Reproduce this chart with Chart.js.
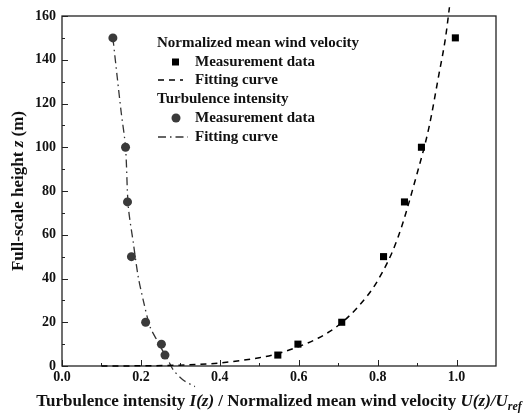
<!DOCTYPE html>
<html>
<head>
<meta charset="utf-8">
<script src="https://cdn.jsdelivr.net/npm/chart.js@4.4.1/dist/chart.umd.min.js"></script>
<style>
html,body{margin:0;padding:0;background:#fff;}
#wrap{width:525px;height:414px;}
</style>
</head>
<body>
<div id="wrap"><canvas id="c" width="525" height="414"></canvas></div>
<script>
// ---- data ----
const windU = [0.547, 0.598, 0.709, 0.815, 0.868, 0.911, 0.997];
const windZ = [5, 10, 20, 50, 75, 100, 150];
const windFitU = [0.10, 0.20, 0.30, 0.40, 0.50, 0.55, 0.60, 0.65, 0.70, 0.75, 0.80, 0.85, 0.90, 0.93, 0.955, 0.972, 0.982];
const windFitZ = [0, 0.1, 0.4, 1.4, 3.8, 5.8, 8.9, 12.8, 18.5, 27, 39, 58, 88, 109, 133, 150, 164];
const tiI = [0.129, 0.161, 0.166, 0.176, 0.212, 0.252, 0.261];
const tiZ = [150, 100, 75, 50, 20, 10, 5];
const tiFitI = [0.129, 0.140, 0.150, 0.161, 0.168, 0.181, 0.193, 0.206, 0.223, 0.240, 0.255, 0.268, 0.282, 0.307, 0.337];
const tiFitZ = [150, 132, 116, 100, 73, 56, 41, 30, 18, 12, 7, 3, -1.8, -6.4, -9.4];
const xTicks = [0.0, 0.2, 0.4, 0.6, 0.8, 1.0];
const xMinorTicks = [0.1, 0.3, 0.5, 0.7, 0.9, 1.1];
const yTicks = [0, 20, 40, 60, 80, 100, 120, 140, 160];
const yMinorTicks = [10, 30, 50, 70, 90, 110, 130, 150];

const pts = (xs, ys) => xs.map((x, i) => ({x: x, y: ys[i]}));
const SERIF = '"Liberation Serif", "Times New Roman", serif';
const AXC = '#222';

const framePlugin = {
  id: 'frame',
  beforeDatasetsDraw(chart) {
    const {ctx, chartArea: a, scales: {x, y}} = chart;
    ctx.save();
    ctx.strokeStyle = AXC;
    ctx.lineWidth = 1.3;
    ctx.strokeRect(a.left, a.top, a.right - a.left, a.bottom - a.top);
    ctx.lineWidth = 1;
    ctx.beginPath();
    xTicks.forEach(v => { const p = Math.round(x.getPixelForValue(v)) + 0.5; ctx.moveTo(p, a.bottom); ctx.lineTo(p, a.bottom - 6); });
    xMinorTicks.forEach(v => { const p = Math.round(x.getPixelForValue(v)) + 0.5; if (p < a.right - 1) { ctx.moveTo(p, a.bottom); ctx.lineTo(p, a.bottom - 3); } });
    yTicks.forEach(v => { const p = Math.round(y.getPixelForValue(v)) + 0.5; ctx.moveTo(a.left, p); ctx.lineTo(a.left + 6, p); });
    yMinorTicks.forEach(v => { const p = Math.round(y.getPixelForValue(v)) + 0.5; ctx.moveTo(a.left, p); ctx.lineTo(a.left + 3, p); });
    ctx.stroke();
    ctx.restore();
  },
  afterDraw(chart) {
    const {ctx} = chart;
    ctx.save();
    ctx.fillStyle = '#111';
    ctx.textBaseline = 'alphabetic';
    // x title with mixed styles
    const B = 'bold 17px ' + SERIF, BI = 'italic bold 17px ' + SERIF, SUB = 'italic bold 12px ' + SERIF;
    const parts = [
      ['Turbulence intensity ', B, 0],
      ['I(z)', BI, 0],
      [' / Normalized mean wind velocity ', B, 0],
      ['U(z)/U', BI, 0],
      ['ref', SUB, 4]
    ];
    let total = 0;
    parts.forEach(p => { ctx.font = p[1]; total += ctx.measureText(p[0]).width; });
    let xx = 279 - total / 2;
    const base = 406;
    parts.forEach(p => { ctx.font = p[1]; ctx.fillText(p[0], xx, base + p[2]); xx += ctx.measureText(p[0]).width; });
    // y title
    ctx.translate(23, 191);
    ctx.rotate(-Math.PI / 2);
    const yparts = [['Full-scale height ', B], ['z', BI], [' (m)', B]];
    total = 0;
    yparts.forEach(p => { ctx.font = p[1]; total += ctx.measureText(p[0]).width; });
    xx = -total / 2;
    yparts.forEach(p => { ctx.font = p[1]; ctx.fillText(p[0], xx, 0); xx += ctx.measureText(p[0]).width; });
    ctx.restore();

    // legend
    ctx.save();
    ctx.font = 'bold 15px ' + SERIF;
    ctx.textBaseline = 'middle';
    ctx.fillStyle = '#111';
    const lx = 157, tx = 195;
    ctx.fillText('Normalized mean wind velocity', lx, 43);
    ctx.fillText('Measurement data', tx, 62);
    ctx.fillText('Fitting curve', tx, 80);
    ctx.fillText('Turbulence intensity', lx, 99);
    ctx.fillText('Measurement data', tx, 118);
    ctx.fillText('Fitting curve', tx, 137);
    // markers
    ctx.fillStyle = '#000';
    ctx.fillRect(172, 58.5, 7, 7);
    ctx.fillStyle = '#3a3a3a';
    ctx.beginPath(); ctx.arc(176, 118, 4.5, 0, Math.PI * 2); ctx.fill();
    ctx.lineWidth = 1.5;
    ctx.strokeStyle = '#000';
    ctx.setLineDash([6, 5]);
    ctx.beginPath(); ctx.moveTo(158, 80); ctx.lineTo(183, 80); ctx.stroke();
    ctx.strokeStyle = '#333';
    ctx.lineWidth = 1.3;
    ctx.setLineDash([8, 4, 1.5, 4]);
    ctx.beginPath(); ctx.moveTo(158, 137); ctx.lineTo(188, 137); ctx.stroke();
    ctx.restore();
  }
};

new Chart(document.getElementById('c'), {
  type: 'scatter',
  data: {
    datasets: [
      {
        label: 'Fitting curve (wind)',
        data: pts(windFitU, windFitZ),
        showLine: true, pointRadius: 0, borderColor: '#000', borderWidth: 1.5,
        borderDash: [6, 5], tension: 0.35, cubicInterpolationMode: 'monotone', clip: false, order: 3
      },
      {
        label: 'Fitting curve (TI)',
        data: pts(tiFitI, tiFitZ),
        showLine: true, pointRadius: 0, borderColor: '#333', borderWidth: 1.3,
        borderDash: [8, 4, 1.5, 4], tension: 0.3, clip: false, order: 4
      },
      {
        label: 'Measurement data (wind)',
        data: pts(windU, windZ),
        pointStyle: 'rect', pointRadius: 5, pointBackgroundColor: '#000', pointBorderColor: '#000', pointBorderWidth: 0, order: 1
      },
      {
        label: 'Measurement data (TI)',
        data: pts(tiI, tiZ),
        pointStyle: 'circle', pointRadius: 4.5, pointBackgroundColor: '#3a3a3a', pointBorderColor: '#3a3a3a', pointBorderWidth: 0, order: 2
      }
    ]
  },
  options: {
    responsive: false,
    animation: false,
    devicePixelRatio: 1,
    layout: {padding: {top: 16, right: 29, left: 0, bottom: 0}},
    plugins: {legend: {display: false}, tooltip: {enabled: false}},
    scales: {
      x: {
        type: 'linear', min: 0, max: 1.1,
        grid: {display: false, drawTicks: false},
        border: {display: false},
        afterBuildTicks: s => { s.ticks = xTicks.map(v => ({value: v})); },
        afterFit: s => { s.height = 48; },
        ticks: {color: '#111', padding: 3, font: {family: SERIF, size: 14, weight: 'bold'}, callback: v => Number(v).toFixed(1), maxRotation: 0, autoSkip: false}
      },
      y: {
        type: 'linear', min: 0, max: 160,
        grid: {display: false, drawTicks: false},
        border: {display: false},
        afterBuildTicks: s => { s.ticks = yTicks.map(v => ({value: v})); },
        afterFit: s => { s.width = 62; },
        ticks: {color: '#111', padding: 6, font: {family: SERIF, size: 14, weight: 'bold'}, autoSkip: false}
      }
    }
  },
  plugins: [framePlugin]
});
</script>
</body>
</html>
